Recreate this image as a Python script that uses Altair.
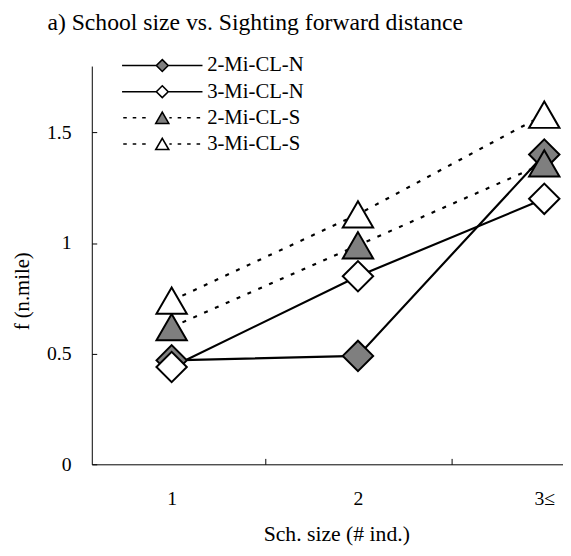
import altair as alt
import pandas as pd

categories = ["1", "2", "3≤"]
cat_pos = [1, 2, 3]
series_names = ["2-Mi-CL-N", "3-Mi-CL-N", "2-Mi-CL-S", "3-Mi-CL-S"]
v_2N = [0.47, 0.49, 1.40]
v_3N = [0.44, 0.85, 1.20]
v_2S = [0.62, 0.99, 1.36]
v_3S = [0.74, 1.13, 1.58]
y_ticks = [0, 0.5, 1, 1.5]
x_ticks = [1, 1.5, 2, 2.5, 3]

rows = []
for name, vals in zip(series_names, [v_2N, v_3N, v_2S, v_3S]):
    for p, v in zip(cat_pos, vals):
        rows.append({"xi": p, "f": v, "series": name})
df = pd.DataFrame(rows)

FONT = "Liberation Serif"
GRAY = "#7f7f7f"
fill_range = [GRAY, "#ffffff", GRAY, "#ffffff"]
dash_by_series = [None, None, [4, 8], [4, 8]]
point_shapes = ["diamond", "diamond", "triangle-up", "triangle-up"]

solid_d = "M-6.8,0L-1,0M1,0L6.8,0M0,-1L1,0L0,1L-1,0Z"
dots = ("M-6.6,0L-6.0,0M-5.0,0L-4.4,0M-3.4,0L-2.8,0"
        "M1.2,0L1.6,0M2.6,0L3.2,0M4.2,0L4.8,0M5.8,0L6.4,0")
dotted_t = dots + "M0,-0.95L1.1,0.95L-1.1,0.95Z"
legend_paths = [solid_d, solid_d, dotted_t, dotted_t]

label_expr = " : ".join(
    f"datum.value == {p} ? '{c}'" for p, c in zip(cat_pos, categories)
) + " : ''"

x_enc = alt.X(
    "xi:Q",
    scale=alt.Scale(domain=[0.5714, 3.1005], nice=False, zero=False),
    axis=alt.Axis(
        title="Sch. size (# ind.)", values=x_ticks, labelExpr=label_expr,
        labelAngle=0, tickSize={"expr": "-6"},
        tickOpacity={"condition": {"test": "datum.value % 1 == 0", "value": 0}, "value": 1},
        labelPadding=31, labelFontSize=20, labelFlush=False, labelOverlap=False,
        titleFontSize=22, titleX=248, titleY=77, titleBaseline="alphabetic",
    ),
)
y_enc = alt.Y(
    "f:Q",
    scale=alt.Scale(domain=[0, 1.8], nice=False, zero=True),
    axis=alt.Axis(title="f (n.mile)", values=y_ticks, format="~g", tickSize={"expr": "-5"},
                  labelPadding=26, labelFontSize=20, titleFontSize=21,
                  titleX=-64, titleY=228, titleBaseline="alphabetic"),
)

base = alt.Chart(df)

line_layers = []
point_layers = []
for name, shp, fc, dash in zip(series_names, point_shapes, fill_range, dash_by_series):
    sub = base.transform_filter(alt.datum.series == name)
    line_kw = {"color": "black", "strokeWidth": 2.2}
    if dash:
        line_kw["strokeDash"] = dash
    line_layers.append(sub.mark_line(**line_kw).encode(x=x_enc, y=y_enc))
    point_layers.append(
        sub.mark_point(
            shape=shp, filled=True, fill=fc, stroke="black", strokeWidth=2,
            size=950, opacity=1,
        ).encode(x=x_enc, y=y_enc)
    )

leg = alt.Legend(
    title=None, orient="none", legendX=61, legendY=-11,
    labelFont=FONT, labelFontSize=21, labelColor="black",
    symbolSize=144, symbolStrokeWidth=1.6,
    labelOffset=35, rowPadding=4.5, padding=0, symbolOpacity=1,
)
legend_layer = base.mark_point(filled=True, stroke="black", strokeWidth=1.6, opacity=0).encode(
    x=x_enc, y=y_enc,
    shape=alt.Shape("series:N", scale=alt.Scale(domain=series_names, range=legend_paths), legend=leg),
    fill=alt.Fill("series:N", scale=alt.Scale(domain=series_names, range=fill_range), legend=leg),
)

chart = alt.layer(*line_layers, *point_layers, legend_layer).properties(
    width=478, height=404,
    padding={"left": 85, "top": 55, "right": 0, "bottom": 81},
    autosize=alt.AutoSizeParams(type="none"),
    title=alt.TitleParams(
        text="a) School size vs. Sighting forward distance",
        anchor="start", frame="group", dx=-45, dy=24, font=FONT, fontSize=24,
        fontWeight="normal", color="black", baseline="alphabetic", offset=26,
    ),
).configure_view(stroke=None).configure_axis(
    grid=False, domainColor="black", domainWidth=1, tickColor="black", tickWidth=1,
    labelColor="black", titleColor="black", labelFont=FONT, titleFont=FONT,
    titleFontWeight="normal",
)

chart.save("out.html", embed_options={"renderer": "svg", "actions": False})
